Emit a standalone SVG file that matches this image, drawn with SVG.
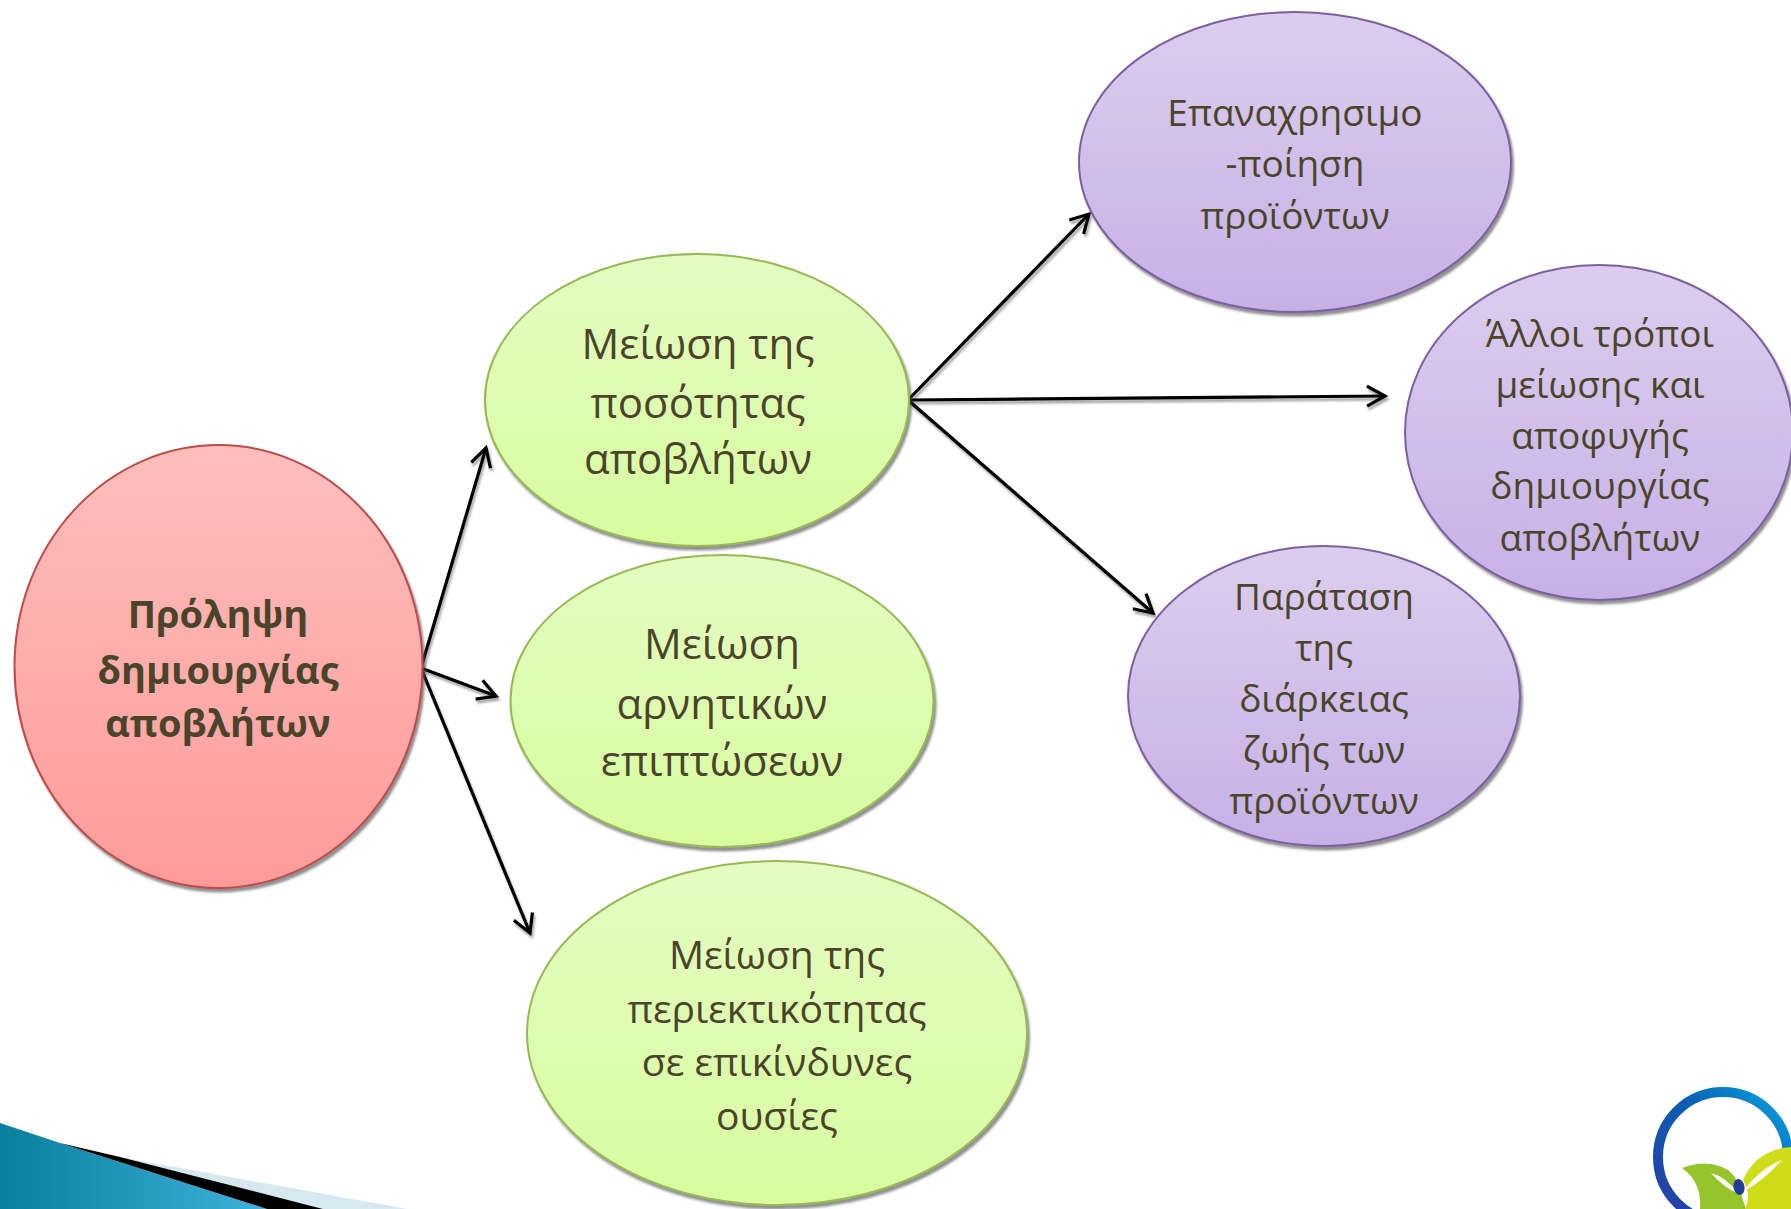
<svg xmlns="http://www.w3.org/2000/svg" width="1791" height="1209" viewBox="0 0 1791 1209">
<style>
text{font-family:"Open Sans","Noto Sans","DejaVu Sans",sans-serif;fill:#4a452a;text-anchor:middle}
.m{font-size:42px}.h{font-size:39px}.s{font-size:37px}.b{font-size:38px;font-weight:700}
.r{fill:url(#gr);stroke:#be4b48;stroke-width:2;filter:url(#sh)}
.g{fill:url(#gg);stroke:#98b954;stroke-width:2;filter:url(#sh)}
.p{fill:url(#gp);stroke:#7d60a0;stroke-width:2;filter:url(#sh)}
.c{fill:none;stroke:#000;stroke-width:3.200;marker-end:url(#ah);filter:url(#ls)}
</style>
<defs>
<linearGradient id="gr" x1="0" y1="0" x2="0" y2="1"><stop offset="0" stop-color="#ffbebd"/><stop offset="1" stop-color="#fe9b9a"/></linearGradient>
<linearGradient id="gg" x1="0" y1="0" x2="0" y2="1"><stop offset="0" stop-color="#e4fcc2"/><stop offset="1" stop-color="#d8fc9f"/></linearGradient>
<linearGradient id="gp" x1="0" y1="0" x2="0" y2="1"><stop offset="0" stop-color="#dccdee"/><stop offset="1" stop-color="#c6b1e6"/></linearGradient>
<linearGradient id="gt" x1="0" y1="0" x2="1" y2="0"><stop offset="0" stop-color="#087f9c"/><stop offset="1" stop-color="#3fb2dc"/></linearGradient>
<linearGradient id="gc" x1="0" y1="1" x2="1" y2="0"><stop offset="0" stop-color="#2a3aa5"/><stop offset=".6" stop-color="#0a62b4"/><stop offset="1" stop-color="#0aa5e4"/></linearGradient>
<filter id="sh" x="-5%" y="-5%" width="110%" height="112%"><feDropShadow dx="2" dy="3.500" stdDeviation=".8" flood-color="#555" flood-opacity=".65"/></filter>
<filter id="ls" x="0" y="0" width="1791" height="1209" filterUnits="userSpaceOnUse"><feDropShadow dx="1.500" dy="3" stdDeviation="1" flood-color="#000" flood-opacity=".35"/></filter>
<marker id="ah" markerUnits="userSpaceOnUse" markerWidth="28" markerHeight="28" refX="21" refY="12" orient="auto" viewBox="0 0 28 24"><path d="M3 2L21 12L3 22" fill="none" stroke="#000" stroke-width="3.200"/></marker>
</defs>
<g id="corner">
<path d="M0 1123L60 1143L267 1209H0Z" fill="url(#gt)"/>
<path d="M120 1157L407 1209H323Z" fill="#d6e9f1"/>
<path d="M60 1143L120 1157L323 1209H267Z" fill="#000"/>
</g>
<g id="logo">
<circle cx="1723" cy="1157" r="65" fill="none" stroke="url(#gc)" stroke-width="10"/>
<path d="M1682 1168Q1708 1158 1728 1170Q1736 1176 1738 1185L1746 1209H1700Q1702 1182 1682 1168Z" fill="#95c42b"/>
<path d="M1711 1173Q1726 1177 1739 1194Q1724 1188 1711 1173Z" fill="#fff"/>
<path d="M1743 1180Q1756 1150 1791 1147V1209H1745Q1752 1196 1743 1180Z" fill="#cfdc18"/>
<path d="M1782 1160Q1760 1168 1743 1192Q1764 1180 1782 1160Z" fill="#fff"/>
<ellipse cx="1739" cy="1187" rx="5.500" ry="8" fill="#263d99" transform="rotate(-10 1739 1187)"/>
</g>
<g id="connectors">
<path class="c" d="M421 668L486 448"/>
<path class="c" d="M421 668L496 696"/>
<path class="c" d="M421 668L530 933"/>
<path class="c" d="M908 400L1089 214"/>
<path class="c" d="M908 400L1385 396"/>
<path class="c" d="M908 400L1153 613"/>
</g>
<g id="node-root"><ellipse class="r" cx="218.500" cy="666.500" rx="204" ry="221.500"/>
<text class="b"><tspan x="218" y="628">Πρόληψη</tspan><tspan x="218" y="684">δημιουργίας</tspan><tspan x="218" y="737">αποβλήτων</tspan></text></g>
<g id="node-quantity"><ellipse class="g" cx="697" cy="400" rx="212" ry="146"/>
<text class="m"><tspan x="698" y="359">Μείωση της</tspan><tspan x="698" y="418">ποσότητας</tspan><tspan x="698" y="474">αποβλήτων</tspan></text></g>
<g id="node-effects"><ellipse class="g" cx="722" cy="701" rx="211.500" ry="146"/>
<text class="m"><tspan x="722" y="659">Μείωση</tspan><tspan x="722" y="719">αρνητικών</tspan><tspan x="722" y="776">επιπτώσεων</tspan></text></g>
<g id="node-hazard"><ellipse class="g" cx="777" cy="1033" rx="250" ry="172"/>
<text class="h"><tspan x="777" y="969">Μείωση της</tspan><tspan x="777" y="1023">περιεκτικότητας</tspan><tspan x="777" y="1076">σε επικίνδυνες</tspan><tspan x="777" y="1130">ουσίες</tspan></text></g>
<g id="node-reuse"><ellipse class="p" cx="1295" cy="162" rx="216" ry="150"/>
<text class="s"><tspan x="1295" y="126">Επαναχρησιμο</tspan><tspan x="1295" y="177">-ποίηση</tspan><tspan x="1295" y="229">προϊόντων</tspan></text></g>
<g id="node-other"><ellipse class="p" cx="1599" cy="432.500" rx="194" ry="167.500"/>
<text class="s"><tspan x="1600" y="347">Άλλοι τρόποι</tspan><tspan x="1600" y="398">μείωσης και</tspan><tspan x="1600" y="449">αποφυγής</tspan><tspan x="1600" y="499">δημιουργίας</tspan><tspan x="1600" y="551">αποβλήτων</tspan></text></g>
<g id="node-extend"><ellipse class="p" cx="1324" cy="696" rx="196" ry="150"/>
<text class="s"><tspan x="1324" y="610">Παράταση</tspan><tspan x="1324" y="661">της</tspan><tspan x="1324" y="712">διάρκειας</tspan><tspan x="1324" y="763">ζωής των</tspan><tspan x="1324" y="814">προϊόντων</tspan></text></g>
</svg>
